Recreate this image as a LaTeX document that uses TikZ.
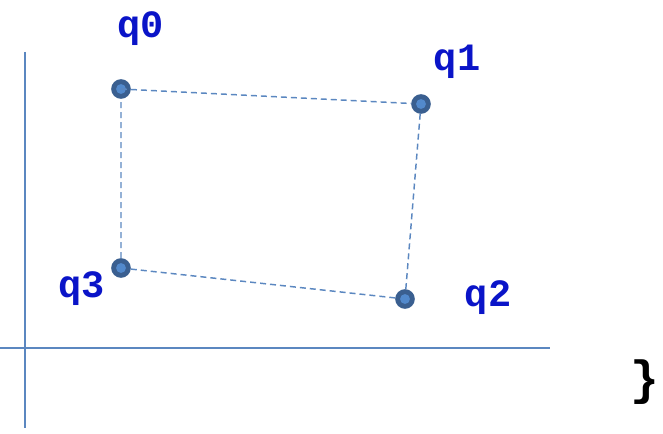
\documentclass[tikz,border=0pt]{standalone}
\usepackage{fontspec}
\setmonofont{Liberation Mono}
\usepackage{xcolor}
\usepackage{tikz}
\usetikzlibrary{positioning, calc}
\definecolor{quadaxis}{HTML}{5B87C0}
\definecolor{quaddot}{HTML}{3A5F90}
\definecolor{quadinner}{HTML}{5289CC}
\definecolor{quadlabel}{HTML}{0A14C8}

\begin{document}
\begin{tikzpicture}[x=0.75pt, y=-0.75pt,
    vertex/.style={circle, fill=quaddot, draw=quaddot, line width=1.2pt, minimum size=13.5pt, inner sep=0pt,
        path picture={\fill[quadinner] (path picture bounding box.center) circle (3.7pt);}},
    vlabel/.style={text=quadlabel, font=\ttfamily\bfseries\fontsize{29}{31}\selectfont, inner sep=0pt},
    edge/.style={draw=quadaxis, dash pattern=on 4.5pt off 3pt, line width=1.1pt}]
    \useasboundingbox (0,0) rectangle (663,434);
    % Axes
    \coordinate (ytop) at (25,52);
    \coordinate (ybot) at (25,428);
    \coordinate (xleft) at (0,348);
    \coordinate (xright) at (550,348);
    \draw[quadaxis, line width=1.3pt] (ytop) -- (ybot);
    \draw[quadaxis, line width=1.3pt] (xleft) -- (xright);
    % Quad corners
    \node[vertex] (q0) at (121,89) {};
    \node[vertex] (q1) at (421,104) {};
    \node[vertex] (q2) at (405,299) {};
    \node[vertex] (q3) at (121,268) {};
    % Dashed edges
    \draw[edge] (q0.center) -- (q1) -- (q2) -- (q3) -- (q0);
    % Labels
    \node[vlabel] (l0) at (141,29) {q0};
    \node[vlabel] (l1) at (457,62) {q1};
    \node[vlabel] (l2) at (488,298) {q2};
    \node[vlabel] (l3) at (82,289) {q3};
    % Brace
    \node[font=\ttfamily\bfseries\fontsize{36}{38}\selectfont, inner sep=0pt] (brace) at (645,382) {\}};
\end{tikzpicture}
\end{document}
